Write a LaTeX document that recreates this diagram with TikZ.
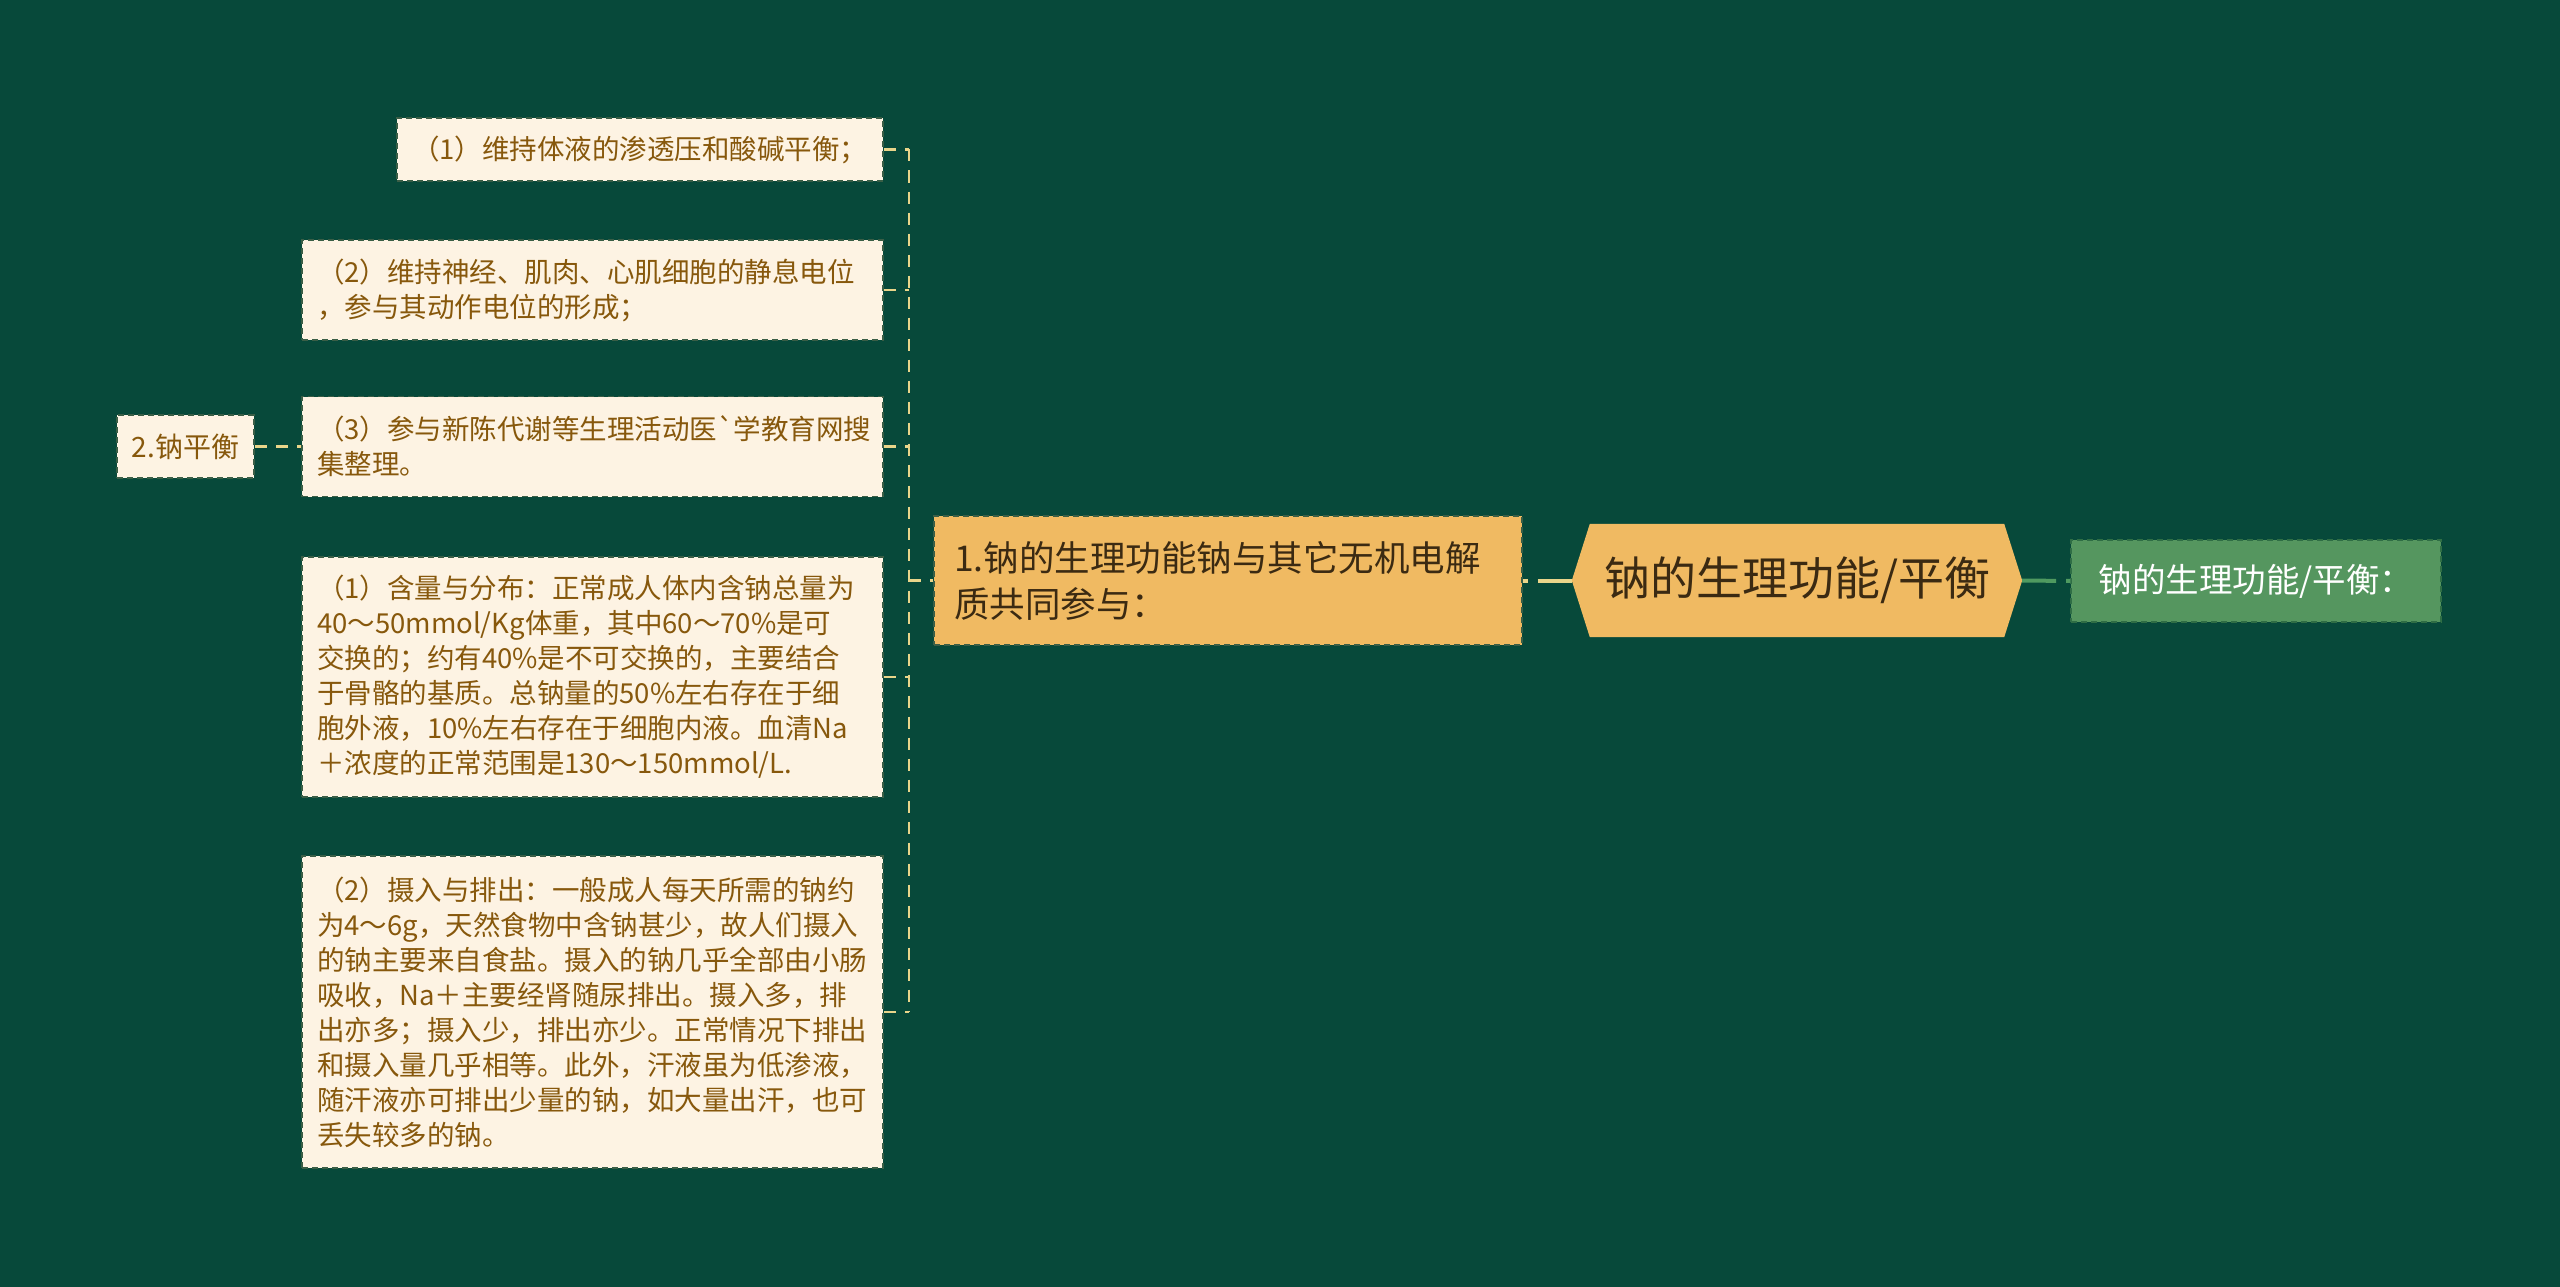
\documentclass[tikz,border=0pt]{standalone}
\usepackage{fontspec}
\setmainfont{Noto Sans CJK SC}
\usetikzlibrary{backgrounds}

\definecolor{bgdark}{HTML}{07493A}
\definecolor{cream}{HTML}{FDF3E3}
\definecolor{creamedge}{HTML}{3A5E46}
\definecolor{leaftext}{HTML}{87580C}
\definecolor{orangefill}{HTML}{F0BA62}
\definecolor{orangetext}{HTML}{3B2A12}
\definecolor{greenfill}{HTML}{55965F}
\definecolor{greenedge}{HTML}{2F6E45}
\definecolor{yline}{HTML}{E9D58A}
\definecolor{gline}{HTML}{4F9A60}

\begin{document}
\begin{tikzpicture}[x=1pt,y=-1pt,
  leaf/.style={fill=cream, draw=creamedge, line width=1.5pt, dash pattern=on 6pt off 4pt,
    text=leaftext, font=\fontsize{27.5}{35}\selectfont, inner xsep=15pt, inner ysep=0pt,
    align=left},
  branch/.style={fill=orangefill, draw=creamedge, line width=1.5pt, dash pattern=on 6pt off 4pt,
    text=orangetext, font=\fontsize{35.5}{46}\selectfont, inner xsep=20pt, inner ysep=0pt,
    align=left},
  roottext/.style={text=orangetext, font=\fontsize{46}{54}\selectfont, inner sep=0pt},
  notebox/.style={fill=greenfill, draw=greenedge, line width=1.5pt, dash pattern=on 6pt off 4pt,
    text=white, font=\fontsize{33.5}{38}\selectfont, inner sep=0pt},
  link/.style={yline, line width=2.5pt, dash pattern=on 12pt off 9pt}]

  \useasboundingbox (0,0) rectangle (2560,1287);

  % root and its two sides
  \node[roottext, minimum width=450pt, minimum height=113pt] (root) at (1797,580.5) {钠的生理功能/平衡};
  \node[notebox, minimum width=370pt, minimum height=82pt] (note) at (2256,581) {钠的生理功能/平衡：};
  \node[branch, text width=548pt, minimum height=129pt] (func) at (1228,580.5)
    {1.钠的生理功能钠与其它无机电解\\质共同参与：};

  % leaves of the left branch
  \node[leaf, text width=456pt, minimum height=63pt] (care1) at (640,149.5)
    {（1）维持体液的渗透压和酸碱平衡；};
  \node[leaf, text width=551pt, minimum height=100pt] (care2) at (592.5,290)
    {（2）维持神经、肌肉、心肌细胞的静息电位\\，参与其动作电位的形成；};
  \node[leaf, text width=551pt, minimum height=100pt] (care3) at (592.5,446.5)
    {（3）参与新陈代谢等生理活动医\textasciigrave 学教育网搜\\集整理。};
  \node[leaf, text width=551pt, minimum height=240pt] (amount) at (592.5,677)
    {（1）含量与分布：正常成人体内含钠总量为\\
     40～50mmol/Kg体重，其中60～70\%是可\\
     交换的；约有40\%是不可交换的，主要结合\\
     于骨骼的基质。总钠量的50\%左右存在于细\\
     胞外液，10\%左右存在于细胞内液。血清Na\\
     ＋浓度的正常范围是130～150mmol/L.};
  \node[leaf, text width=551pt, minimum height=312pt] (intake) at (592.5,1012)
    {（2）摄入与排出：一般成人每天所需的钠约\\
     为4～6g，天然食物中含钠甚少，故人们摄入\\
     的钠主要来自食盐。摄入的钠几乎全部由小肠\\
     吸收，Na＋主要经肾随尿排出。摄入多，排\\
     出亦多；摄入少，排出亦少。正常情况下排出\\
     和摄入量几乎相等。此外，汗液虽为低渗液，\\
     随汗液亦可排出少量的钠，如大量出汗，也可\\
     丢失较多的钠。};
  \node[leaf, minimum width=135pt, minimum height=63pt, align=center, font=\fontsize{28}{34}\selectfont] (balance) at (185.5,446.5)
    {2.钠平衡};

  % connectors
  \coordinate (bx) at (909,580.5);
  \draw[link] (care1.east -| bx) -- (intake.east -| bx);
  \foreach \leafname in {care1,care2,care3,amount,intake}
    \draw[link] (\leafname.east) -- (\leafname.east -| bx);
  \draw[link] (bx |- func.west) -- (func.west);
  \draw[link] (balance.east) -- (care3.west);
  \draw[yline, line width=4pt, dash pattern=on 5pt off 10pt on 60pt] (func.east) -- (root.west);
  \draw[gline, line width=4pt, dash pattern=on 34pt off 10pt on 10pt] (root.east) -- (note.west);

  \begin{scope}[on background layer]
    \fill[bgdark] (0,0) rectangle (2560,1287);
    \fill[orangefill] (root.west) -- ([xshift=18pt]root.north west) -- ([xshift=-18pt]root.north east)
      -- (root.east) -- ([xshift=-18pt]root.south east) -- ([xshift=18pt]root.south west) -- cycle;
  \end{scope}

\end{tikzpicture}
\end{document}
